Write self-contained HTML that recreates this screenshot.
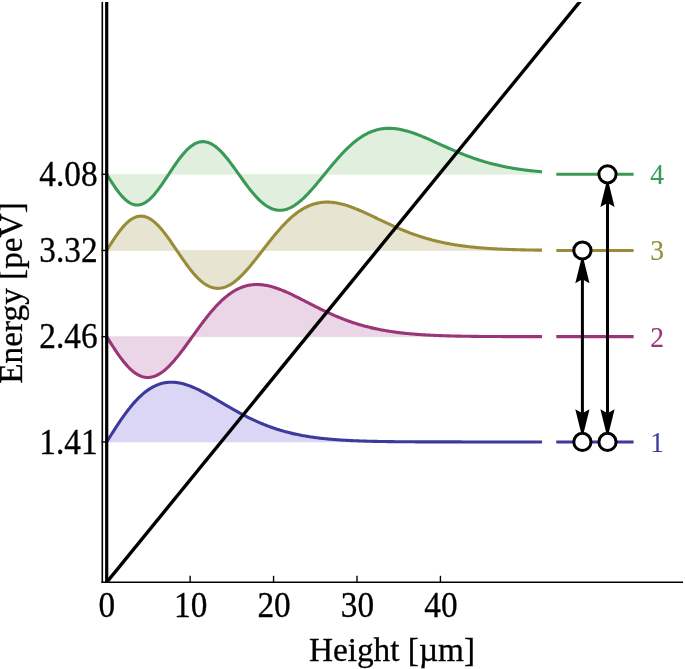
<!DOCTYPE html>
<html><head><meta charset="utf-8"><title>Energy levels</title>
<style>html,body{margin:0;padding:0;background:#fff}svg{display:block}</style></head>
<body>
<svg width="685" height="669" viewBox="0 0 685 669">
<rect width="685" height="669" fill="#fff"/>
<path d="M106.70 441.94L106.70 441.94L107.79 440.20L108.88 438.46L109.97 436.72L111.06 434.99L112.15 433.27L113.25 431.55L114.34 429.85L115.43 428.16L116.52 426.49L117.61 424.83L118.70 423.19L119.79 421.57L120.88 419.97L121.97 418.40L123.06 416.84L124.16 415.32L125.25 413.81L126.34 412.34L127.43 410.89L128.52 409.48L129.61 408.09L130.70 406.74L131.79 405.41L132.88 404.12L133.97 402.87L135.07 401.65L136.16 400.46L137.25 399.31L138.34 398.20L139.43 397.12L140.52 396.08L141.61 395.08L142.70 394.12L143.79 393.19L144.88 392.30L145.98 391.45L147.07 390.64L148.16 389.87L149.25 389.13L150.34 388.44L151.43 387.78L152.52 387.16L153.61 386.58L154.70 386.04L155.79 385.53L156.88 385.07L157.98 384.64L159.07 384.24L160.16 383.88L161.25 383.56L162.34 383.28L163.43 383.03L164.52 382.81L165.61 382.63L166.70 382.48L167.79 382.36L168.89 382.28L169.98 382.22L171.07 382.20L172.16 382.21L173.25 382.25L174.34 382.32L175.43 382.41L176.52 382.54L177.61 382.69L178.70 382.86L179.80 383.07L180.89 383.29L181.98 383.54L183.07 383.82L184.16 384.11L185.25 384.43L186.34 384.77L187.43 385.13L188.52 385.51L189.61 385.91L190.71 386.32L191.80 386.75L192.89 387.20L193.98 387.67L195.07 388.15L196.16 388.64L197.25 389.15L198.34 389.67L199.43 390.20L200.52 390.75L201.62 391.30L202.71 391.86L203.80 392.44L204.89 393.02L205.98 393.61L207.07 394.21L208.16 394.81L209.25 395.43L210.34 396.04L211.43 396.66L212.52 397.29L213.62 397.92L214.71 398.55L215.80 399.19L216.89 399.83L217.98 400.47L219.07 401.11L220.16 401.75L221.25 402.40L222.34 403.04L223.43 403.68L224.53 404.32L225.62 404.97L226.71 405.60L227.80 406.24L228.89 406.88L229.98 407.51L231.07 408.14L232.16 408.76L233.25 409.38L234.34 410.00L235.44 410.61L236.53 411.22L237.62 411.83L238.71 412.42L239.80 413.02L240.89 413.61L241.98 414.19L243.07 414.77L244.16 415.34L245.25 415.90L246.35 416.46L247.44 417.01L248.53 417.55L249.62 418.09L250.71 418.62L251.80 419.15L252.89 419.67L253.98 420.18L255.07 420.68L256.16 421.17L257.25 421.66L258.35 422.14L259.44 422.62L260.53 423.08L261.62 423.54L262.71 423.99L263.80 424.43L264.89 424.87L265.98 425.30L267.07 425.72L268.16 426.13L269.26 426.53L270.35 426.93L271.44 427.32L272.53 427.71L273.62 428.08L274.71 428.45L275.80 428.81L276.89 429.16L277.98 429.51L279.07 429.85L280.17 430.18L281.26 430.50L282.35 430.82L283.44 431.13L284.53 431.44L285.62 431.74L286.71 432.03L287.80 432.31L288.89 432.59L289.98 432.86L291.08 433.12L292.17 433.38L293.26 433.64L294.35 433.88L295.44 434.12L296.53 434.36L297.62 434.59L298.71 434.81L299.80 435.03L300.89 435.24L301.98 435.44L303.08 435.65L304.17 435.84L305.26 436.03L306.35 436.22L307.44 436.40L308.53 436.57L309.62 436.75L310.71 436.91L311.80 437.07L312.89 437.23L313.99 437.38L315.08 437.53L316.17 437.68L317.26 437.82L318.35 437.96L319.44 438.09L320.53 438.22L321.62 438.34L322.71 438.46L323.80 438.58L324.90 438.70L325.99 438.81L327.08 438.91L328.17 439.02L329.26 439.12L330.35 439.22L331.44 439.31L332.53 439.40L333.62 439.49L334.71 439.58L335.81 439.66L336.90 439.74L337.99 439.82L339.08 439.90L340.17 439.97L341.26 440.04L342.35 440.11L343.44 440.18L344.53 440.24L345.62 440.31L346.72 440.37L347.81 440.42L348.90 440.48L349.99 440.53L351.08 440.59L352.17 440.64L353.26 440.69L354.35 440.73L355.44 440.78L356.53 440.82L357.62 440.87L358.72 440.91L359.81 440.95L360.90 440.99L361.99 441.02L363.08 441.06L364.17 441.09L365.26 441.13L366.35 441.16L367.44 441.19L368.53 441.22L369.63 441.25L370.72 441.27L371.81 441.30L372.90 441.33L373.99 441.35L375.08 441.37L376.17 441.40L377.26 441.42L378.35 441.44L379.44 441.46L380.54 441.48L381.63 441.50L382.72 441.52L383.81 441.53L384.90 441.55L385.99 441.57L387.08 441.58L388.17 441.60L389.26 441.61L390.35 441.63L391.45 441.64L392.54 441.65L393.63 441.66L394.72 441.68L395.81 441.69L396.90 441.70L397.99 441.71L399.08 441.72L400.17 441.73L401.26 441.74L402.35 441.75L403.45 441.75L404.54 441.76L405.63 441.77L406.72 441.78L407.81 441.78L408.90 441.79L409.99 441.80L411.08 441.80L412.17 441.81L413.26 441.82L414.36 441.82L415.45 441.83L416.54 441.83L417.63 441.84L418.72 441.84L419.81 441.85L420.90 441.85L421.99 441.85L423.08 441.86L424.17 441.86L425.27 441.86L426.36 441.87L427.45 441.87L428.54 441.87L429.63 441.88L430.72 441.88L431.81 441.88L432.90 441.89L433.99 441.89L435.08 441.89L436.18 441.89L437.27 441.90L438.36 441.90L439.45 441.90L440.54 441.90L441.63 441.90L442.72 441.90L443.81 441.91L444.90 441.91L445.99 441.91L447.08 441.91L448.18 441.91L449.27 441.91L450.36 441.91L451.45 441.92L452.54 441.92L453.63 441.92L454.72 441.92L455.81 441.92L456.90 441.92L457.99 441.92L459.09 441.92L460.18 441.92L461.27 441.92L462.36 441.93L463.45 441.93L464.54 441.93L465.63 441.93L466.72 441.93L467.81 441.93L468.90 441.93L470.00 441.93L471.09 441.93L472.18 441.93L473.27 441.93L474.36 441.93L475.45 441.93L476.54 441.93L477.63 441.93L478.72 441.93L479.81 441.93L480.91 441.93L482.00 441.93L483.09 441.93L484.18 441.93L485.27 441.93L486.36 441.93L487.45 441.94L488.54 441.94L489.63 441.94L490.72 441.94L491.82 441.94L492.91 441.94L494.00 441.94L495.09 441.94L496.18 441.94L497.27 441.94L498.36 441.94L499.45 441.94L500.54 441.94L501.63 441.94L502.72 441.94L503.82 441.94L504.91 441.94L506.00 441.94L507.09 441.94L508.18 441.94L509.27 441.94L510.36 441.94L511.45 441.94L512.54 441.94L513.63 441.94L514.73 441.94L515.82 441.94L516.91 441.94L518.00 441.94L519.09 441.94L520.18 441.94L521.27 441.94L522.36 441.94L523.45 441.94L524.54 441.94L525.64 441.94L526.73 441.94L527.82 441.94L528.91 441.94L530.00 441.94L531.09 441.94L532.18 441.94L533.27 441.94L534.36 441.94L535.45 441.94L536.55 441.94L537.64 441.94L538.73 441.94L539.82 441.94L540.91 441.94L542.00 441.94L542.00 441.94Z" fill="#dbd6f5" stroke="#dbd6f5" stroke-width="0.7"/>
<path d="M106.70 336.67L106.70 336.67L107.79 338.41L108.88 340.15L109.97 341.88L111.06 343.60L112.15 345.31L113.25 347.00L114.34 348.67L115.43 350.32L116.52 351.94L117.61 353.53L118.70 355.09L119.79 356.61L120.88 358.09L121.97 359.54L123.06 360.94L124.16 362.30L125.25 363.61L126.34 364.87L127.43 366.08L128.52 367.23L129.61 368.33L130.70 369.37L131.79 370.36L132.88 371.28L133.97 372.14L135.07 372.94L136.16 373.68L137.25 374.36L138.34 374.96L139.43 375.51L140.52 375.99L141.61 376.40L142.70 376.74L143.79 377.02L144.88 377.23L145.98 377.38L147.07 377.45L148.16 377.47L149.25 377.41L150.34 377.29L151.43 377.11L152.52 376.86L153.61 376.55L154.70 376.18L155.79 375.75L156.88 375.26L157.98 374.71L159.07 374.10L160.16 373.43L161.25 372.71L162.34 371.94L163.43 371.11L164.52 370.24L165.61 369.32L166.70 368.35L167.79 367.33L168.89 366.27L169.98 365.18L171.07 364.04L172.16 362.86L173.25 361.65L174.34 360.40L175.43 359.12L176.52 357.81L177.61 356.48L178.70 355.12L179.80 353.73L180.89 352.32L181.98 350.89L183.07 349.45L184.16 347.99L185.25 346.51L186.34 345.02L187.43 343.52L188.52 342.02L189.61 340.50L190.71 338.98L191.80 337.46L192.89 335.94L193.98 334.42L195.07 332.90L196.16 331.39L197.25 329.88L198.34 328.38L199.43 326.89L200.52 325.41L201.62 323.94L202.71 322.49L203.80 321.05L204.89 319.62L205.98 318.22L207.07 316.83L208.16 315.46L209.25 314.12L210.34 312.79L211.43 311.49L212.52 310.22L213.62 308.97L214.71 307.74L215.80 306.55L216.89 305.38L217.98 304.24L219.07 303.12L220.16 302.04L221.25 300.99L222.34 299.97L223.43 298.98L224.53 298.03L225.62 297.10L226.71 296.21L227.80 295.35L228.89 294.52L229.98 293.73L231.07 292.97L232.16 292.24L233.25 291.55L234.34 290.89L235.44 290.27L236.53 289.68L237.62 289.12L238.71 288.60L239.80 288.10L240.89 287.65L241.98 287.22L243.07 286.83L244.16 286.47L245.25 286.14L246.35 285.84L247.44 285.58L248.53 285.34L249.62 285.14L250.71 284.96L251.80 284.82L252.89 284.70L253.98 284.61L255.07 284.55L256.16 284.52L257.25 284.51L258.35 284.53L259.44 284.58L260.53 284.65L261.62 284.74L262.71 284.86L263.80 285.01L264.89 285.17L265.98 285.36L267.07 285.57L268.16 285.79L269.26 286.04L270.35 286.31L271.44 286.60L272.53 286.90L273.62 287.22L274.71 287.56L275.80 287.92L276.89 288.29L277.98 288.67L279.07 289.07L280.17 289.48L281.26 289.91L282.35 290.34L283.44 290.79L284.53 291.25L285.62 291.72L286.71 292.20L287.80 292.69L288.89 293.19L289.98 293.69L291.08 294.20L292.17 294.72L293.26 295.25L294.35 295.78L295.44 296.31L296.53 296.85L297.62 297.40L298.71 297.95L299.80 298.50L300.89 299.05L301.98 299.61L303.08 300.17L304.17 300.73L305.26 301.29L306.35 301.85L307.44 302.41L308.53 302.97L309.62 303.53L310.71 304.09L311.80 304.65L312.89 305.21L313.99 305.76L315.08 306.32L316.17 306.87L317.26 307.42L318.35 307.96L319.44 308.50L320.53 309.04L321.62 309.57L322.71 310.10L323.80 310.63L324.90 311.15L325.99 311.66L327.08 312.17L328.17 312.68L329.26 313.18L330.35 313.68L331.44 314.17L332.53 314.65L333.62 315.13L334.71 315.60L335.81 316.07L336.90 316.53L337.99 316.99L339.08 317.43L340.17 317.88L341.26 318.31L342.35 318.74L343.44 319.17L344.53 319.58L345.62 319.99L346.72 320.40L347.81 320.79L348.90 321.18L349.99 321.57L351.08 321.94L352.17 322.31L353.26 322.68L354.35 323.03L355.44 323.39L356.53 323.73L357.62 324.07L358.72 324.40L359.81 324.72L360.90 325.04L361.99 325.35L363.08 325.66L364.17 325.96L365.26 326.25L366.35 326.54L367.44 326.82L368.53 327.09L369.63 327.36L370.72 327.62L371.81 327.88L372.90 328.13L373.99 328.38L375.08 328.62L376.17 328.85L377.26 329.08L378.35 329.30L379.44 329.52L380.54 329.73L381.63 329.94L382.72 330.14L383.81 330.34L384.90 330.53L385.99 330.72L387.08 330.90L388.17 331.08L389.26 331.26L390.35 331.42L391.45 331.59L392.54 331.75L393.63 331.90L394.72 332.06L395.81 332.20L396.90 332.35L397.99 332.49L399.08 332.62L400.17 332.75L401.26 332.88L402.35 333.01L403.45 333.13L404.54 333.25L405.63 333.36L406.72 333.47L407.81 333.58L408.90 333.68L409.99 333.78L411.08 333.88L412.17 333.98L413.26 334.07L414.36 334.16L415.45 334.25L416.54 334.33L417.63 334.41L418.72 334.49L419.81 334.57L420.90 334.64L421.99 334.72L423.08 334.79L424.17 334.85L425.27 334.92L426.36 334.98L427.45 335.04L428.54 335.10L429.63 335.16L430.72 335.21L431.81 335.27L432.90 335.32L433.99 335.37L435.08 335.42L436.18 335.46L437.27 335.51L438.36 335.55L439.45 335.60L440.54 335.64L441.63 335.67L442.72 335.71L443.81 335.75L444.90 335.78L445.99 335.82L447.08 335.85L448.18 335.88L449.27 335.91L450.36 335.94L451.45 335.97L452.54 336.00L453.63 336.03L454.72 336.05L455.81 336.08L456.90 336.10L457.99 336.12L459.09 336.14L460.18 336.16L461.27 336.19L462.36 336.20L463.45 336.22L464.54 336.24L465.63 336.26L466.72 336.28L467.81 336.29L468.90 336.31L470.00 336.32L471.09 336.34L472.18 336.35L473.27 336.36L474.36 336.38L475.45 336.39L476.54 336.40L477.63 336.41L478.72 336.42L479.81 336.43L480.91 336.44L482.00 336.45L483.09 336.46L484.18 336.47L485.27 336.48L486.36 336.49L487.45 336.50L488.54 336.50L489.63 336.51L490.72 336.52L491.82 336.52L492.91 336.53L494.00 336.54L495.09 336.54L496.18 336.55L497.27 336.55L498.36 336.56L499.45 336.56L500.54 336.57L501.63 336.57L502.72 336.58L503.82 336.58L504.91 336.58L506.00 336.59L507.09 336.59L508.18 336.60L509.27 336.60L510.36 336.60L511.45 336.61L512.54 336.61L513.63 336.61L514.73 336.61L515.82 336.62L516.91 336.62L518.00 336.62L519.09 336.62L520.18 336.63L521.27 336.63L522.36 336.63L523.45 336.63L524.54 336.63L525.64 336.63L526.73 336.64L527.82 336.64L528.91 336.64L530.00 336.64L531.09 336.64L532.18 336.64L533.27 336.64L534.36 336.65L535.45 336.65L536.55 336.65L537.64 336.65L538.73 336.65L539.82 336.65L540.91 336.65L542.00 336.65L542.00 336.67Z" fill="#ead6e6" stroke="#ead6e6" stroke-width="0.7"/>
<path d="M106.70 250.48L106.70 250.48L107.79 248.74L108.88 247.00L109.97 245.28L111.06 243.56L112.15 241.87L113.25 240.20L114.34 238.55L115.43 236.94L116.52 235.36L117.61 233.83L118.70 232.33L119.79 230.89L120.88 229.49L121.97 228.15L123.06 226.87L124.16 225.65L125.25 224.49L126.34 223.40L127.43 222.38L128.52 221.43L129.61 220.55L130.70 219.75L131.79 219.02L132.88 218.37L133.97 217.81L135.07 217.32L136.16 216.91L137.25 216.59L138.34 216.34L139.43 216.19L140.52 216.11L141.61 216.11L142.70 216.20L143.79 216.37L144.88 216.62L145.98 216.95L147.07 217.36L148.16 217.84L149.25 218.40L150.34 219.04L151.43 219.75L152.52 220.52L153.61 221.37L154.70 222.28L155.79 223.26L156.88 224.29L157.98 225.39L159.07 226.54L160.16 227.74L161.25 229.00L162.34 230.30L163.43 231.64L164.52 233.03L165.61 234.45L166.70 235.91L167.79 237.39L168.89 238.91L169.98 240.45L171.07 242.01L172.16 243.59L173.25 245.19L174.34 246.79L175.43 248.40L176.52 250.02L177.61 251.64L178.70 253.25L179.80 254.86L180.89 256.46L181.98 258.05L183.07 259.62L184.16 261.18L185.25 262.71L186.34 264.23L187.43 265.71L188.52 267.17L189.61 268.59L190.71 269.98L191.80 271.33L192.89 272.64L193.98 273.92L195.07 275.14L196.16 276.33L197.25 277.46L198.34 278.55L199.43 279.58L200.52 280.57L201.62 281.50L202.71 282.37L203.80 283.19L204.89 283.95L205.98 284.65L207.07 285.29L208.16 285.87L209.25 286.40L210.34 286.86L211.43 287.26L212.52 287.59L213.62 287.87L214.71 288.08L215.80 288.24L216.89 288.33L217.98 288.36L219.07 288.32L220.16 288.23L221.25 288.08L222.34 287.86L223.43 287.59L224.53 287.27L225.62 286.88L226.71 286.44L227.80 285.94L228.89 285.39L229.98 284.79L231.07 284.14L232.16 283.43L233.25 282.68L234.34 281.88L235.44 281.04L236.53 280.15L237.62 279.22L238.71 278.25L239.80 277.24L240.89 276.19L241.98 275.11L243.07 273.99L244.16 272.85L245.25 271.67L246.35 270.46L247.44 269.23L248.53 267.97L249.62 266.69L250.71 265.39L251.80 264.07L252.89 262.73L253.98 261.38L255.07 260.01L256.16 258.63L257.25 257.25L258.35 255.85L259.44 254.45L260.53 253.04L261.62 251.63L262.71 250.21L263.80 248.80L264.89 247.39L265.98 245.99L267.07 244.59L268.16 243.19L269.26 241.80L270.35 240.43L271.44 239.06L272.53 237.71L273.62 236.36L274.71 235.04L275.80 233.73L276.89 232.44L277.98 231.16L279.07 229.91L280.17 228.67L281.26 227.46L282.35 226.27L283.44 225.10L284.53 223.96L285.62 222.84L286.71 221.75L287.80 220.68L288.89 219.64L289.98 218.63L291.08 217.64L292.17 216.69L293.26 215.76L294.35 214.86L295.44 214.00L296.53 213.16L297.62 212.35L298.71 211.58L299.80 210.83L300.89 210.12L301.98 209.44L303.08 208.79L304.17 208.17L305.26 207.58L306.35 207.02L307.44 206.49L308.53 206.00L309.62 205.53L310.71 205.10L311.80 204.69L312.89 204.32L313.99 203.98L315.08 203.66L316.17 203.38L317.26 203.13L318.35 202.90L319.44 202.70L320.53 202.53L321.62 202.39L322.71 202.27L323.80 202.18L324.90 202.12L325.99 202.08L327.08 202.07L328.17 202.08L329.26 202.12L330.35 202.18L331.44 202.26L332.53 202.36L333.62 202.49L334.71 202.64L335.81 202.80L336.90 202.99L337.99 203.20L339.08 203.42L340.17 203.67L341.26 203.93L342.35 204.21L343.44 204.50L344.53 204.81L345.62 205.13L346.72 205.47L347.81 205.83L348.90 206.19L349.99 206.57L351.08 206.96L352.17 207.37L353.26 207.78L354.35 208.20L355.44 208.63L356.53 209.08L357.62 209.53L358.72 209.99L359.81 210.45L360.90 210.93L361.99 211.41L363.08 211.89L364.17 212.38L365.26 212.88L366.35 213.38L367.44 213.89L368.53 214.39L369.63 214.90L370.72 215.42L371.81 215.93L372.90 216.45L373.99 216.97L375.08 217.49L376.17 218.01L377.26 218.53L378.35 219.06L379.44 219.58L380.54 220.10L381.63 220.62L382.72 221.13L383.81 221.65L384.90 222.16L385.99 222.67L387.08 223.18L388.17 223.69L389.26 224.19L390.35 224.69L391.45 225.19L392.54 225.68L393.63 226.17L394.72 226.65L395.81 227.13L396.90 227.61L397.99 228.08L399.08 228.55L400.17 229.01L401.26 229.47L402.35 229.92L403.45 230.36L404.54 230.80L405.63 231.24L406.72 231.67L407.81 232.09L408.90 232.51L409.99 232.92L411.08 233.33L412.17 233.73L413.26 234.12L414.36 234.51L415.45 234.89L416.54 235.27L417.63 235.64L418.72 236.00L419.81 236.36L420.90 236.71L421.99 237.06L423.08 237.40L424.17 237.73L425.27 238.06L426.36 238.38L427.45 238.70L428.54 239.01L429.63 239.31L430.72 239.61L431.81 239.90L432.90 240.18L433.99 240.46L435.08 240.74L436.18 241.00L437.27 241.27L438.36 241.52L439.45 241.77L440.54 242.02L441.63 242.26L442.72 242.49L443.81 242.72L444.90 242.95L445.99 243.17L447.08 243.38L448.18 243.59L449.27 243.79L450.36 243.99L451.45 244.18L452.54 244.37L453.63 244.56L454.72 244.74L455.81 244.91L456.90 245.08L457.99 245.25L459.09 245.41L460.18 245.57L461.27 245.72L462.36 245.87L463.45 246.02L464.54 246.16L465.63 246.30L466.72 246.43L467.81 246.56L468.90 246.69L470.00 246.82L471.09 246.94L472.18 247.05L473.27 247.16L474.36 247.27L475.45 247.38L476.54 247.49L477.63 247.59L478.72 247.68L479.81 247.78L480.91 247.87L482.00 247.96L483.09 248.05L484.18 248.13L485.27 248.21L486.36 248.29L487.45 248.37L488.54 248.44L489.63 248.51L490.72 248.58L491.82 248.65L492.91 248.72L494.00 248.78L495.09 248.84L496.18 248.90L497.27 248.96L498.36 249.01L499.45 249.07L500.54 249.12L501.63 249.17L502.72 249.22L503.82 249.26L504.91 249.31L506.00 249.35L507.09 249.39L508.18 249.44L509.27 249.48L510.36 249.51L511.45 249.55L512.54 249.59L513.63 249.62L514.73 249.65L515.82 249.68L516.91 249.72L518.00 249.75L519.09 249.77L520.18 249.80L521.27 249.83L522.36 249.85L523.45 249.88L524.54 249.90L525.64 249.93L526.73 249.95L527.82 249.97L528.91 249.99L530.00 250.01L531.09 250.03L532.18 250.05L533.27 250.06L534.36 250.08L535.45 250.10L536.55 250.11L537.64 250.13L538.73 250.14L539.82 250.16L540.91 250.17L542.00 250.18L542.00 250.48Z" fill="#e8e4d2" stroke="#e8e4d2" stroke-width="0.7"/>
<path d="M106.70 174.31L106.70 174.31L107.79 176.05L108.88 177.79L109.97 179.51L111.06 181.22L112.15 182.90L113.25 184.56L114.34 186.18L115.43 187.76L116.52 189.30L117.61 190.79L118.70 192.23L119.79 193.60L120.88 194.92L121.97 196.17L123.06 197.35L124.16 198.45L125.25 199.48L126.34 200.43L127.43 201.29L128.52 202.07L129.61 202.76L130.70 203.36L131.79 203.88L132.88 204.30L133.97 204.62L135.07 204.86L136.16 204.99L137.25 205.04L138.34 204.99L139.43 204.85L140.52 204.61L141.61 204.28L142.70 203.87L143.79 203.36L144.88 202.77L145.98 202.09L147.07 201.33L148.16 200.49L149.25 199.57L150.34 198.58L151.43 197.51L152.52 196.38L153.61 195.19L154.70 193.93L155.79 192.62L156.88 191.26L157.98 189.84L159.07 188.39L160.16 186.89L161.25 185.36L162.34 183.79L163.43 182.20L164.52 180.59L165.61 178.96L166.70 177.32L167.79 175.66L168.89 174.01L169.98 172.36L171.07 170.71L172.16 169.07L173.25 167.44L174.34 165.84L175.43 164.25L176.52 162.70L177.61 161.17L178.70 159.68L179.80 158.23L180.89 156.82L181.98 155.45L183.07 154.14L184.16 152.88L185.25 151.67L186.34 150.52L187.43 149.43L188.52 148.41L189.61 147.45L190.71 146.56L191.80 145.74L192.89 144.99L193.98 144.31L195.07 143.71L196.16 143.18L197.25 142.73L198.34 142.36L199.43 142.07L200.52 141.85L201.62 141.71L202.71 141.65L203.80 141.67L204.89 141.77L205.98 141.95L207.07 142.20L208.16 142.52L209.25 142.92L210.34 143.40L211.43 143.94L212.52 144.56L213.62 145.24L214.71 146.00L215.80 146.81L216.89 147.69L217.98 148.62L219.07 149.62L220.16 150.67L221.25 151.77L222.34 152.92L223.43 154.12L224.53 155.37L225.62 156.65L226.71 157.97L227.80 159.33L228.89 160.72L229.98 162.14L231.07 163.58L232.16 165.05L233.25 166.54L234.34 168.04L235.44 169.56L236.53 171.08L237.62 172.62L238.71 174.15L239.80 175.69L240.89 177.22L241.98 178.75L243.07 180.27L244.16 181.77L245.25 183.27L246.35 184.74L247.44 186.19L248.53 187.63L249.62 189.03L250.71 190.41L251.80 191.75L252.89 193.07L253.98 194.35L255.07 195.59L256.16 196.79L257.25 197.95L258.35 199.06L259.44 200.13L260.53 201.15L261.62 202.13L262.71 203.05L263.80 203.93L264.89 204.75L265.98 205.51L267.07 206.23L268.16 206.88L269.26 207.48L270.35 208.02L271.44 208.51L272.53 208.94L273.62 209.31L274.71 209.62L275.80 209.87L276.89 210.06L277.98 210.19L279.07 210.27L280.17 210.28L281.26 210.24L282.35 210.14L283.44 209.99L284.53 209.78L285.62 209.51L286.71 209.19L287.80 208.81L288.89 208.38L289.98 207.90L291.08 207.37L292.17 206.79L293.26 206.16L294.35 205.48L295.44 204.76L296.53 203.99L297.62 203.19L298.71 202.33L299.80 201.44L300.89 200.51L301.98 199.55L303.08 198.55L304.17 197.51L305.26 196.45L306.35 195.35L307.44 194.23L308.53 193.08L309.62 191.90L310.71 190.70L311.80 189.48L312.89 188.24L313.99 186.99L315.08 185.71L316.17 184.43L317.26 183.12L318.35 181.81L319.44 180.49L320.53 179.17L321.62 177.83L322.71 176.49L323.80 175.15L324.90 173.81L325.99 172.47L327.08 171.13L328.17 169.80L329.26 168.47L330.35 167.14L331.44 165.83L332.53 164.52L333.62 163.22L334.71 161.94L335.81 160.67L336.90 159.41L337.99 158.17L339.08 156.95L340.17 155.74L341.26 154.55L342.35 153.38L343.44 152.23L344.53 151.11L345.62 150.00L346.72 148.92L347.81 147.86L348.90 146.83L349.99 145.82L351.08 144.84L352.17 143.88L353.26 142.95L354.35 142.05L355.44 141.17L356.53 140.33L357.62 139.51L358.72 138.72L359.81 137.96L360.90 137.23L361.99 136.52L363.08 135.85L364.17 135.21L365.26 134.59L366.35 134.01L367.44 133.46L368.53 132.93L369.63 132.44L370.72 131.97L371.81 131.54L372.90 131.13L373.99 130.75L375.08 130.40L376.17 130.08L377.26 129.79L378.35 129.52L379.44 129.29L380.54 129.08L381.63 128.89L382.72 128.74L383.81 128.60L384.90 128.50L385.99 128.42L387.08 128.36L388.17 128.33L389.26 128.32L390.35 128.34L391.45 128.38L392.54 128.44L393.63 128.52L394.72 128.62L395.81 128.75L396.90 128.89L397.99 129.05L399.08 129.23L400.17 129.43L401.26 129.65L402.35 129.88L403.45 130.14L404.54 130.40L405.63 130.69L406.72 130.98L407.81 131.29L408.90 131.62L409.99 131.96L411.08 132.31L412.17 132.67L413.26 133.04L414.36 133.43L415.45 133.82L416.54 134.22L417.63 134.64L418.72 135.06L419.81 135.49L420.90 135.93L421.99 136.37L423.08 136.82L424.17 137.28L425.27 137.74L426.36 138.21L427.45 138.68L428.54 139.16L429.63 139.64L430.72 140.12L431.81 140.61L432.90 141.09L433.99 141.58L435.08 142.08L436.18 142.57L437.27 143.06L438.36 143.56L439.45 144.05L440.54 144.55L441.63 145.04L442.72 145.54L443.81 146.03L444.90 146.52L445.99 147.01L447.08 147.50L448.18 147.98L449.27 148.47L450.36 148.95L451.45 149.43L452.54 149.90L453.63 150.37L454.72 150.84L455.81 151.30L456.90 151.76L457.99 152.22L459.09 152.67L460.18 153.11L461.27 153.56L462.36 153.99L463.45 154.43L464.54 154.85L465.63 155.28L466.72 155.69L467.81 156.11L468.90 156.51L470.00 156.92L471.09 157.31L472.18 157.70L473.27 158.09L474.36 158.47L475.45 158.84L476.54 159.21L477.63 159.57L478.72 159.93L479.81 160.28L480.91 160.62L482.00 160.96L483.09 161.29L484.18 161.62L485.27 161.94L486.36 162.26L487.45 162.57L488.54 162.87L489.63 163.17L490.72 163.46L491.82 163.75L492.91 164.03L494.00 164.31L495.09 164.58L496.18 164.84L497.27 165.10L498.36 165.35L499.45 165.60L500.54 165.84L501.63 166.08L502.72 166.31L503.82 166.54L504.91 166.76L506.00 166.98L507.09 167.19L508.18 167.40L509.27 167.60L510.36 167.80L511.45 167.99L512.54 168.18L513.63 168.36L514.73 168.54L515.82 168.71L516.91 168.88L518.00 169.05L519.09 169.21L520.18 169.37L521.27 169.52L522.36 169.67L523.45 169.82L524.54 169.96L525.64 170.10L526.73 170.23L527.82 170.36L528.91 170.49L530.00 170.61L531.09 170.73L532.18 170.85L533.27 170.96L534.36 171.07L535.45 171.18L536.55 171.28L537.64 171.38L538.73 171.48L539.82 171.58L540.91 171.67L542.00 171.76L542.00 174.31Z" fill="#e1f0de" stroke="#e1f0de" stroke-width="0.7"/>
<path d="M106.70 441.94L107.79 440.20L108.88 438.46L109.97 436.72L111.06 434.99L112.15 433.27L113.25 431.55L114.34 429.85L115.43 428.16L116.52 426.49L117.61 424.83L118.70 423.19L119.79 421.57L120.88 419.97L121.97 418.40L123.06 416.84L124.16 415.32L125.25 413.81L126.34 412.34L127.43 410.89L128.52 409.48L129.61 408.09L130.70 406.74L131.79 405.41L132.88 404.12L133.97 402.87L135.07 401.65L136.16 400.46L137.25 399.31L138.34 398.20L139.43 397.12L140.52 396.08L141.61 395.08L142.70 394.12L143.79 393.19L144.88 392.30L145.98 391.45L147.07 390.64L148.16 389.87L149.25 389.13L150.34 388.44L151.43 387.78L152.52 387.16L153.61 386.58L154.70 386.04L155.79 385.53L156.88 385.07L157.98 384.64L159.07 384.24L160.16 383.88L161.25 383.56L162.34 383.28L163.43 383.03L164.52 382.81L165.61 382.63L166.70 382.48L167.79 382.36L168.89 382.28L169.98 382.22L171.07 382.20L172.16 382.21L173.25 382.25L174.34 382.32L175.43 382.41L176.52 382.54L177.61 382.69L178.70 382.86L179.80 383.07L180.89 383.29L181.98 383.54L183.07 383.82L184.16 384.11L185.25 384.43L186.34 384.77L187.43 385.13L188.52 385.51L189.61 385.91L190.71 386.32L191.80 386.75L192.89 387.20L193.98 387.67L195.07 388.15L196.16 388.64L197.25 389.15L198.34 389.67L199.43 390.20L200.52 390.75L201.62 391.30L202.71 391.86L203.80 392.44L204.89 393.02L205.98 393.61L207.07 394.21L208.16 394.81L209.25 395.43L210.34 396.04L211.43 396.66L212.52 397.29L213.62 397.92L214.71 398.55L215.80 399.19L216.89 399.83L217.98 400.47L219.07 401.11L220.16 401.75L221.25 402.40L222.34 403.04L223.43 403.68L224.53 404.32L225.62 404.97L226.71 405.60L227.80 406.24L228.89 406.88L229.98 407.51L231.07 408.14L232.16 408.76L233.25 409.38L234.34 410.00L235.44 410.61L236.53 411.22L237.62 411.83L238.71 412.42L239.80 413.02L240.89 413.61L241.98 414.19L243.07 414.77L244.16 415.34L245.25 415.90L246.35 416.46L247.44 417.01L248.53 417.55L249.62 418.09L250.71 418.62L251.80 419.15L252.89 419.67L253.98 420.18L255.07 420.68L256.16 421.17L257.25 421.66L258.35 422.14L259.44 422.62L260.53 423.08L261.62 423.54L262.71 423.99L263.80 424.43L264.89 424.87L265.98 425.30L267.07 425.72L268.16 426.13L269.26 426.53L270.35 426.93L271.44 427.32L272.53 427.71L273.62 428.08L274.71 428.45L275.80 428.81L276.89 429.16L277.98 429.51L279.07 429.85L280.17 430.18L281.26 430.50L282.35 430.82L283.44 431.13L284.53 431.44L285.62 431.74L286.71 432.03L287.80 432.31L288.89 432.59L289.98 432.86L291.08 433.12L292.17 433.38L293.26 433.64L294.35 433.88L295.44 434.12L296.53 434.36L297.62 434.59L298.71 434.81L299.80 435.03L300.89 435.24L301.98 435.44L303.08 435.65L304.17 435.84L305.26 436.03L306.35 436.22L307.44 436.40L308.53 436.57L309.62 436.75L310.71 436.91L311.80 437.07L312.89 437.23L313.99 437.38L315.08 437.53L316.17 437.68L317.26 437.82L318.35 437.96L319.44 438.09L320.53 438.22L321.62 438.34L322.71 438.46L323.80 438.58L324.90 438.70L325.99 438.81L327.08 438.91L328.17 439.02L329.26 439.12L330.35 439.22L331.44 439.31L332.53 439.40L333.62 439.49L334.71 439.58L335.81 439.66L336.90 439.74L337.99 439.82L339.08 439.90L340.17 439.97L341.26 440.04L342.35 440.11L343.44 440.18L344.53 440.24L345.62 440.31L346.72 440.37L347.81 440.42L348.90 440.48L349.99 440.53L351.08 440.59L352.17 440.64L353.26 440.69L354.35 440.73L355.44 440.78L356.53 440.82L357.62 440.87L358.72 440.91L359.81 440.95L360.90 440.99L361.99 441.02L363.08 441.06L364.17 441.09L365.26 441.13L366.35 441.16L367.44 441.19L368.53 441.22L369.63 441.25L370.72 441.27L371.81 441.30L372.90 441.33L373.99 441.35L375.08 441.37L376.17 441.40L377.26 441.42L378.35 441.44L379.44 441.46L380.54 441.48L381.63 441.50L382.72 441.52L383.81 441.53L384.90 441.55L385.99 441.57L387.08 441.58L388.17 441.60L389.26 441.61L390.35 441.63L391.45 441.64L392.54 441.65L393.63 441.66L394.72 441.68L395.81 441.69L396.90 441.70L397.99 441.71L399.08 441.72L400.17 441.73L401.26 441.74L402.35 441.75L403.45 441.75L404.54 441.76L405.63 441.77L406.72 441.78L407.81 441.78L408.90 441.79L409.99 441.80L411.08 441.80L412.17 441.81L413.26 441.82L414.36 441.82L415.45 441.83L416.54 441.83L417.63 441.84L418.72 441.84L419.81 441.85L420.90 441.85L421.99 441.85L423.08 441.86L424.17 441.86L425.27 441.86L426.36 441.87L427.45 441.87L428.54 441.87L429.63 441.88L430.72 441.88L431.81 441.88L432.90 441.89L433.99 441.89L435.08 441.89L436.18 441.89L437.27 441.90L438.36 441.90L439.45 441.90L440.54 441.90L441.63 441.90L442.72 441.90L443.81 441.91L444.90 441.91L445.99 441.91L447.08 441.91L448.18 441.91L449.27 441.91L450.36 441.91L451.45 441.92L452.54 441.92L453.63 441.92L454.72 441.92L455.81 441.92L456.90 441.92L457.99 441.92L459.09 441.92L460.18 441.92L461.27 441.92L462.36 441.93L463.45 441.93L464.54 441.93L465.63 441.93L466.72 441.93L467.81 441.93L468.90 441.93L470.00 441.93L471.09 441.93L472.18 441.93L473.27 441.93L474.36 441.93L475.45 441.93L476.54 441.93L477.63 441.93L478.72 441.93L479.81 441.93L480.91 441.93L482.00 441.93L483.09 441.93L484.18 441.93L485.27 441.93L486.36 441.93L487.45 441.94L488.54 441.94L489.63 441.94L490.72 441.94L491.82 441.94L492.91 441.94L494.00 441.94L495.09 441.94L496.18 441.94L497.27 441.94L498.36 441.94L499.45 441.94L500.54 441.94L501.63 441.94L502.72 441.94L503.82 441.94L504.91 441.94L506.00 441.94L507.09 441.94L508.18 441.94L509.27 441.94L510.36 441.94L511.45 441.94L512.54 441.94L513.63 441.94L514.73 441.94L515.82 441.94L516.91 441.94L518.00 441.94L519.09 441.94L520.18 441.94L521.27 441.94L522.36 441.94L523.45 441.94L524.54 441.94L525.64 441.94L526.73 441.94L527.82 441.94L528.91 441.94L530.00 441.94L531.09 441.94L532.18 441.94L533.27 441.94L534.36 441.94L535.45 441.94L536.55 441.94L537.64 441.94L538.73 441.94L539.82 441.94L540.91 441.94L542.00 441.94" fill="none" stroke="#3c3a9c" stroke-width="3.1" stroke-linejoin="round"/>
<path d="M106.70 336.67L107.79 338.41L108.88 340.15L109.97 341.88L111.06 343.60L112.15 345.31L113.25 347.00L114.34 348.67L115.43 350.32L116.52 351.94L117.61 353.53L118.70 355.09L119.79 356.61L120.88 358.09L121.97 359.54L123.06 360.94L124.16 362.30L125.25 363.61L126.34 364.87L127.43 366.08L128.52 367.23L129.61 368.33L130.70 369.37L131.79 370.36L132.88 371.28L133.97 372.14L135.07 372.94L136.16 373.68L137.25 374.36L138.34 374.96L139.43 375.51L140.52 375.99L141.61 376.40L142.70 376.74L143.79 377.02L144.88 377.23L145.98 377.38L147.07 377.45L148.16 377.47L149.25 377.41L150.34 377.29L151.43 377.11L152.52 376.86L153.61 376.55L154.70 376.18L155.79 375.75L156.88 375.26L157.98 374.71L159.07 374.10L160.16 373.43L161.25 372.71L162.34 371.94L163.43 371.11L164.52 370.24L165.61 369.32L166.70 368.35L167.79 367.33L168.89 366.27L169.98 365.18L171.07 364.04L172.16 362.86L173.25 361.65L174.34 360.40L175.43 359.12L176.52 357.81L177.61 356.48L178.70 355.12L179.80 353.73L180.89 352.32L181.98 350.89L183.07 349.45L184.16 347.99L185.25 346.51L186.34 345.02L187.43 343.52L188.52 342.02L189.61 340.50L190.71 338.98L191.80 337.46L192.89 335.94L193.98 334.42L195.07 332.90L196.16 331.39L197.25 329.88L198.34 328.38L199.43 326.89L200.52 325.41L201.62 323.94L202.71 322.49L203.80 321.05L204.89 319.62L205.98 318.22L207.07 316.83L208.16 315.46L209.25 314.12L210.34 312.79L211.43 311.49L212.52 310.22L213.62 308.97L214.71 307.74L215.80 306.55L216.89 305.38L217.98 304.24L219.07 303.12L220.16 302.04L221.25 300.99L222.34 299.97L223.43 298.98L224.53 298.03L225.62 297.10L226.71 296.21L227.80 295.35L228.89 294.52L229.98 293.73L231.07 292.97L232.16 292.24L233.25 291.55L234.34 290.89L235.44 290.27L236.53 289.68L237.62 289.12L238.71 288.60L239.80 288.10L240.89 287.65L241.98 287.22L243.07 286.83L244.16 286.47L245.25 286.14L246.35 285.84L247.44 285.58L248.53 285.34L249.62 285.14L250.71 284.96L251.80 284.82L252.89 284.70L253.98 284.61L255.07 284.55L256.16 284.52L257.25 284.51L258.35 284.53L259.44 284.58L260.53 284.65L261.62 284.74L262.71 284.86L263.80 285.01L264.89 285.17L265.98 285.36L267.07 285.57L268.16 285.79L269.26 286.04L270.35 286.31L271.44 286.60L272.53 286.90L273.62 287.22L274.71 287.56L275.80 287.92L276.89 288.29L277.98 288.67L279.07 289.07L280.17 289.48L281.26 289.91L282.35 290.34L283.44 290.79L284.53 291.25L285.62 291.72L286.71 292.20L287.80 292.69L288.89 293.19L289.98 293.69L291.08 294.20L292.17 294.72L293.26 295.25L294.35 295.78L295.44 296.31L296.53 296.85L297.62 297.40L298.71 297.95L299.80 298.50L300.89 299.05L301.98 299.61L303.08 300.17L304.17 300.73L305.26 301.29L306.35 301.85L307.44 302.41L308.53 302.97L309.62 303.53L310.71 304.09L311.80 304.65L312.89 305.21L313.99 305.76L315.08 306.32L316.17 306.87L317.26 307.42L318.35 307.96L319.44 308.50L320.53 309.04L321.62 309.57L322.71 310.10L323.80 310.63L324.90 311.15L325.99 311.66L327.08 312.17L328.17 312.68L329.26 313.18L330.35 313.68L331.44 314.17L332.53 314.65L333.62 315.13L334.71 315.60L335.81 316.07L336.90 316.53L337.99 316.99L339.08 317.43L340.17 317.88L341.26 318.31L342.35 318.74L343.44 319.17L344.53 319.58L345.62 319.99L346.72 320.40L347.81 320.79L348.90 321.18L349.99 321.57L351.08 321.94L352.17 322.31L353.26 322.68L354.35 323.03L355.44 323.39L356.53 323.73L357.62 324.07L358.72 324.40L359.81 324.72L360.90 325.04L361.99 325.35L363.08 325.66L364.17 325.96L365.26 326.25L366.35 326.54L367.44 326.82L368.53 327.09L369.63 327.36L370.72 327.62L371.81 327.88L372.90 328.13L373.99 328.38L375.08 328.62L376.17 328.85L377.26 329.08L378.35 329.30L379.44 329.52L380.54 329.73L381.63 329.94L382.72 330.14L383.81 330.34L384.90 330.53L385.99 330.72L387.08 330.90L388.17 331.08L389.26 331.26L390.35 331.42L391.45 331.59L392.54 331.75L393.63 331.90L394.72 332.06L395.81 332.20L396.90 332.35L397.99 332.49L399.08 332.62L400.17 332.75L401.26 332.88L402.35 333.01L403.45 333.13L404.54 333.25L405.63 333.36L406.72 333.47L407.81 333.58L408.90 333.68L409.99 333.78L411.08 333.88L412.17 333.98L413.26 334.07L414.36 334.16L415.45 334.25L416.54 334.33L417.63 334.41L418.72 334.49L419.81 334.57L420.90 334.64L421.99 334.72L423.08 334.79L424.17 334.85L425.27 334.92L426.36 334.98L427.45 335.04L428.54 335.10L429.63 335.16L430.72 335.21L431.81 335.27L432.90 335.32L433.99 335.37L435.08 335.42L436.18 335.46L437.27 335.51L438.36 335.55L439.45 335.60L440.54 335.64L441.63 335.67L442.72 335.71L443.81 335.75L444.90 335.78L445.99 335.82L447.08 335.85L448.18 335.88L449.27 335.91L450.36 335.94L451.45 335.97L452.54 336.00L453.63 336.03L454.72 336.05L455.81 336.08L456.90 336.10L457.99 336.12L459.09 336.14L460.18 336.16L461.27 336.19L462.36 336.20L463.45 336.22L464.54 336.24L465.63 336.26L466.72 336.28L467.81 336.29L468.90 336.31L470.00 336.32L471.09 336.34L472.18 336.35L473.27 336.36L474.36 336.38L475.45 336.39L476.54 336.40L477.63 336.41L478.72 336.42L479.81 336.43L480.91 336.44L482.00 336.45L483.09 336.46L484.18 336.47L485.27 336.48L486.36 336.49L487.45 336.50L488.54 336.50L489.63 336.51L490.72 336.52L491.82 336.52L492.91 336.53L494.00 336.54L495.09 336.54L496.18 336.55L497.27 336.55L498.36 336.56L499.45 336.56L500.54 336.57L501.63 336.57L502.72 336.58L503.82 336.58L504.91 336.58L506.00 336.59L507.09 336.59L508.18 336.60L509.27 336.60L510.36 336.60L511.45 336.61L512.54 336.61L513.63 336.61L514.73 336.61L515.82 336.62L516.91 336.62L518.00 336.62L519.09 336.62L520.18 336.63L521.27 336.63L522.36 336.63L523.45 336.63L524.54 336.63L525.64 336.63L526.73 336.64L527.82 336.64L528.91 336.64L530.00 336.64L531.09 336.64L532.18 336.64L533.27 336.64L534.36 336.65L535.45 336.65L536.55 336.65L537.64 336.65L538.73 336.65L539.82 336.65L540.91 336.65L542.00 336.65" fill="none" stroke="#9a3678" stroke-width="3.1" stroke-linejoin="round"/>
<path d="M106.70 250.48L107.79 248.74L108.88 247.00L109.97 245.28L111.06 243.56L112.15 241.87L113.25 240.20L114.34 238.55L115.43 236.94L116.52 235.36L117.61 233.83L118.70 232.33L119.79 230.89L120.88 229.49L121.97 228.15L123.06 226.87L124.16 225.65L125.25 224.49L126.34 223.40L127.43 222.38L128.52 221.43L129.61 220.55L130.70 219.75L131.79 219.02L132.88 218.37L133.97 217.81L135.07 217.32L136.16 216.91L137.25 216.59L138.34 216.34L139.43 216.19L140.52 216.11L141.61 216.11L142.70 216.20L143.79 216.37L144.88 216.62L145.98 216.95L147.07 217.36L148.16 217.84L149.25 218.40L150.34 219.04L151.43 219.75L152.52 220.52L153.61 221.37L154.70 222.28L155.79 223.26L156.88 224.29L157.98 225.39L159.07 226.54L160.16 227.74L161.25 229.00L162.34 230.30L163.43 231.64L164.52 233.03L165.61 234.45L166.70 235.91L167.79 237.39L168.89 238.91L169.98 240.45L171.07 242.01L172.16 243.59L173.25 245.19L174.34 246.79L175.43 248.40L176.52 250.02L177.61 251.64L178.70 253.25L179.80 254.86L180.89 256.46L181.98 258.05L183.07 259.62L184.16 261.18L185.25 262.71L186.34 264.23L187.43 265.71L188.52 267.17L189.61 268.59L190.71 269.98L191.80 271.33L192.89 272.64L193.98 273.92L195.07 275.14L196.16 276.33L197.25 277.46L198.34 278.55L199.43 279.58L200.52 280.57L201.62 281.50L202.71 282.37L203.80 283.19L204.89 283.95L205.98 284.65L207.07 285.29L208.16 285.87L209.25 286.40L210.34 286.86L211.43 287.26L212.52 287.59L213.62 287.87L214.71 288.08L215.80 288.24L216.89 288.33L217.98 288.36L219.07 288.32L220.16 288.23L221.25 288.08L222.34 287.86L223.43 287.59L224.53 287.27L225.62 286.88L226.71 286.44L227.80 285.94L228.89 285.39L229.98 284.79L231.07 284.14L232.16 283.43L233.25 282.68L234.34 281.88L235.44 281.04L236.53 280.15L237.62 279.22L238.71 278.25L239.80 277.24L240.89 276.19L241.98 275.11L243.07 273.99L244.16 272.85L245.25 271.67L246.35 270.46L247.44 269.23L248.53 267.97L249.62 266.69L250.71 265.39L251.80 264.07L252.89 262.73L253.98 261.38L255.07 260.01L256.16 258.63L257.25 257.25L258.35 255.85L259.44 254.45L260.53 253.04L261.62 251.63L262.71 250.21L263.80 248.80L264.89 247.39L265.98 245.99L267.07 244.59L268.16 243.19L269.26 241.80L270.35 240.43L271.44 239.06L272.53 237.71L273.62 236.36L274.71 235.04L275.80 233.73L276.89 232.44L277.98 231.16L279.07 229.91L280.17 228.67L281.26 227.46L282.35 226.27L283.44 225.10L284.53 223.96L285.62 222.84L286.71 221.75L287.80 220.68L288.89 219.64L289.98 218.63L291.08 217.64L292.17 216.69L293.26 215.76L294.35 214.86L295.44 214.00L296.53 213.16L297.62 212.35L298.71 211.58L299.80 210.83L300.89 210.12L301.98 209.44L303.08 208.79L304.17 208.17L305.26 207.58L306.35 207.02L307.44 206.49L308.53 206.00L309.62 205.53L310.71 205.10L311.80 204.69L312.89 204.32L313.99 203.98L315.08 203.66L316.17 203.38L317.26 203.13L318.35 202.90L319.44 202.70L320.53 202.53L321.62 202.39L322.71 202.27L323.80 202.18L324.90 202.12L325.99 202.08L327.08 202.07L328.17 202.08L329.26 202.12L330.35 202.18L331.44 202.26L332.53 202.36L333.62 202.49L334.71 202.64L335.81 202.80L336.90 202.99L337.99 203.20L339.08 203.42L340.17 203.67L341.26 203.93L342.35 204.21L343.44 204.50L344.53 204.81L345.62 205.13L346.72 205.47L347.81 205.83L348.90 206.19L349.99 206.57L351.08 206.96L352.17 207.37L353.26 207.78L354.35 208.20L355.44 208.63L356.53 209.08L357.62 209.53L358.72 209.99L359.81 210.45L360.90 210.93L361.99 211.41L363.08 211.89L364.17 212.38L365.26 212.88L366.35 213.38L367.44 213.89L368.53 214.39L369.63 214.90L370.72 215.42L371.81 215.93L372.90 216.45L373.99 216.97L375.08 217.49L376.17 218.01L377.26 218.53L378.35 219.06L379.44 219.58L380.54 220.10L381.63 220.62L382.72 221.13L383.81 221.65L384.90 222.16L385.99 222.67L387.08 223.18L388.17 223.69L389.26 224.19L390.35 224.69L391.45 225.19L392.54 225.68L393.63 226.17L394.72 226.65L395.81 227.13L396.90 227.61L397.99 228.08L399.08 228.55L400.17 229.01L401.26 229.47L402.35 229.92L403.45 230.36L404.54 230.80L405.63 231.24L406.72 231.67L407.81 232.09L408.90 232.51L409.99 232.92L411.08 233.33L412.17 233.73L413.26 234.12L414.36 234.51L415.45 234.89L416.54 235.27L417.63 235.64L418.72 236.00L419.81 236.36L420.90 236.71L421.99 237.06L423.08 237.40L424.17 237.73L425.27 238.06L426.36 238.38L427.45 238.70L428.54 239.01L429.63 239.31L430.72 239.61L431.81 239.90L432.90 240.18L433.99 240.46L435.08 240.74L436.18 241.00L437.27 241.27L438.36 241.52L439.45 241.77L440.54 242.02L441.63 242.26L442.72 242.49L443.81 242.72L444.90 242.95L445.99 243.17L447.08 243.38L448.18 243.59L449.27 243.79L450.36 243.99L451.45 244.18L452.54 244.37L453.63 244.56L454.72 244.74L455.81 244.91L456.90 245.08L457.99 245.25L459.09 245.41L460.18 245.57L461.27 245.72L462.36 245.87L463.45 246.02L464.54 246.16L465.63 246.30L466.72 246.43L467.81 246.56L468.90 246.69L470.00 246.82L471.09 246.94L472.18 247.05L473.27 247.16L474.36 247.27L475.45 247.38L476.54 247.49L477.63 247.59L478.72 247.68L479.81 247.78L480.91 247.87L482.00 247.96L483.09 248.05L484.18 248.13L485.27 248.21L486.36 248.29L487.45 248.37L488.54 248.44L489.63 248.51L490.72 248.58L491.82 248.65L492.91 248.72L494.00 248.78L495.09 248.84L496.18 248.90L497.27 248.96L498.36 249.01L499.45 249.07L500.54 249.12L501.63 249.17L502.72 249.22L503.82 249.26L504.91 249.31L506.00 249.35L507.09 249.39L508.18 249.44L509.27 249.48L510.36 249.51L511.45 249.55L512.54 249.59L513.63 249.62L514.73 249.65L515.82 249.68L516.91 249.72L518.00 249.75L519.09 249.77L520.18 249.80L521.27 249.83L522.36 249.85L523.45 249.88L524.54 249.90L525.64 249.93L526.73 249.95L527.82 249.97L528.91 249.99L530.00 250.01L531.09 250.03L532.18 250.05L533.27 250.06L534.36 250.08L535.45 250.10L536.55 250.11L537.64 250.13L538.73 250.14L539.82 250.16L540.91 250.17L542.00 250.18" fill="none" stroke="#998c38" stroke-width="3.1" stroke-linejoin="round"/>
<path d="M106.70 174.31L107.79 176.05L108.88 177.79L109.97 179.51L111.06 181.22L112.15 182.90L113.25 184.56L114.34 186.18L115.43 187.76L116.52 189.30L117.61 190.79L118.70 192.23L119.79 193.60L120.88 194.92L121.97 196.17L123.06 197.35L124.16 198.45L125.25 199.48L126.34 200.43L127.43 201.29L128.52 202.07L129.61 202.76L130.70 203.36L131.79 203.88L132.88 204.30L133.97 204.62L135.07 204.86L136.16 204.99L137.25 205.04L138.34 204.99L139.43 204.85L140.52 204.61L141.61 204.28L142.70 203.87L143.79 203.36L144.88 202.77L145.98 202.09L147.07 201.33L148.16 200.49L149.25 199.57L150.34 198.58L151.43 197.51L152.52 196.38L153.61 195.19L154.70 193.93L155.79 192.62L156.88 191.26L157.98 189.84L159.07 188.39L160.16 186.89L161.25 185.36L162.34 183.79L163.43 182.20L164.52 180.59L165.61 178.96L166.70 177.32L167.79 175.66L168.89 174.01L169.98 172.36L171.07 170.71L172.16 169.07L173.25 167.44L174.34 165.84L175.43 164.25L176.52 162.70L177.61 161.17L178.70 159.68L179.80 158.23L180.89 156.82L181.98 155.45L183.07 154.14L184.16 152.88L185.25 151.67L186.34 150.52L187.43 149.43L188.52 148.41L189.61 147.45L190.71 146.56L191.80 145.74L192.89 144.99L193.98 144.31L195.07 143.71L196.16 143.18L197.25 142.73L198.34 142.36L199.43 142.07L200.52 141.85L201.62 141.71L202.71 141.65L203.80 141.67L204.89 141.77L205.98 141.95L207.07 142.20L208.16 142.52L209.25 142.92L210.34 143.40L211.43 143.94L212.52 144.56L213.62 145.24L214.71 146.00L215.80 146.81L216.89 147.69L217.98 148.62L219.07 149.62L220.16 150.67L221.25 151.77L222.34 152.92L223.43 154.12L224.53 155.37L225.62 156.65L226.71 157.97L227.80 159.33L228.89 160.72L229.98 162.14L231.07 163.58L232.16 165.05L233.25 166.54L234.34 168.04L235.44 169.56L236.53 171.08L237.62 172.62L238.71 174.15L239.80 175.69L240.89 177.22L241.98 178.75L243.07 180.27L244.16 181.77L245.25 183.27L246.35 184.74L247.44 186.19L248.53 187.63L249.62 189.03L250.71 190.41L251.80 191.75L252.89 193.07L253.98 194.35L255.07 195.59L256.16 196.79L257.25 197.95L258.35 199.06L259.44 200.13L260.53 201.15L261.62 202.13L262.71 203.05L263.80 203.93L264.89 204.75L265.98 205.51L267.07 206.23L268.16 206.88L269.26 207.48L270.35 208.02L271.44 208.51L272.53 208.94L273.62 209.31L274.71 209.62L275.80 209.87L276.89 210.06L277.98 210.19L279.07 210.27L280.17 210.28L281.26 210.24L282.35 210.14L283.44 209.99L284.53 209.78L285.62 209.51L286.71 209.19L287.80 208.81L288.89 208.38L289.98 207.90L291.08 207.37L292.17 206.79L293.26 206.16L294.35 205.48L295.44 204.76L296.53 203.99L297.62 203.19L298.71 202.33L299.80 201.44L300.89 200.51L301.98 199.55L303.08 198.55L304.17 197.51L305.26 196.45L306.35 195.35L307.44 194.23L308.53 193.08L309.62 191.90L310.71 190.70L311.80 189.48L312.89 188.24L313.99 186.99L315.08 185.71L316.17 184.43L317.26 183.12L318.35 181.81L319.44 180.49L320.53 179.17L321.62 177.83L322.71 176.49L323.80 175.15L324.90 173.81L325.99 172.47L327.08 171.13L328.17 169.80L329.26 168.47L330.35 167.14L331.44 165.83L332.53 164.52L333.62 163.22L334.71 161.94L335.81 160.67L336.90 159.41L337.99 158.17L339.08 156.95L340.17 155.74L341.26 154.55L342.35 153.38L343.44 152.23L344.53 151.11L345.62 150.00L346.72 148.92L347.81 147.86L348.90 146.83L349.99 145.82L351.08 144.84L352.17 143.88L353.26 142.95L354.35 142.05L355.44 141.17L356.53 140.33L357.62 139.51L358.72 138.72L359.81 137.96L360.90 137.23L361.99 136.52L363.08 135.85L364.17 135.21L365.26 134.59L366.35 134.01L367.44 133.46L368.53 132.93L369.63 132.44L370.72 131.97L371.81 131.54L372.90 131.13L373.99 130.75L375.08 130.40L376.17 130.08L377.26 129.79L378.35 129.52L379.44 129.29L380.54 129.08L381.63 128.89L382.72 128.74L383.81 128.60L384.90 128.50L385.99 128.42L387.08 128.36L388.17 128.33L389.26 128.32L390.35 128.34L391.45 128.38L392.54 128.44L393.63 128.52L394.72 128.62L395.81 128.75L396.90 128.89L397.99 129.05L399.08 129.23L400.17 129.43L401.26 129.65L402.35 129.88L403.45 130.14L404.54 130.40L405.63 130.69L406.72 130.98L407.81 131.29L408.90 131.62L409.99 131.96L411.08 132.31L412.17 132.67L413.26 133.04L414.36 133.43L415.45 133.82L416.54 134.22L417.63 134.64L418.72 135.06L419.81 135.49L420.90 135.93L421.99 136.37L423.08 136.82L424.17 137.28L425.27 137.74L426.36 138.21L427.45 138.68L428.54 139.16L429.63 139.64L430.72 140.12L431.81 140.61L432.90 141.09L433.99 141.58L435.08 142.08L436.18 142.57L437.27 143.06L438.36 143.56L439.45 144.05L440.54 144.55L441.63 145.04L442.72 145.54L443.81 146.03L444.90 146.52L445.99 147.01L447.08 147.50L448.18 147.98L449.27 148.47L450.36 148.95L451.45 149.43L452.54 149.90L453.63 150.37L454.72 150.84L455.81 151.30L456.90 151.76L457.99 152.22L459.09 152.67L460.18 153.11L461.27 153.56L462.36 153.99L463.45 154.43L464.54 154.85L465.63 155.28L466.72 155.69L467.81 156.11L468.90 156.51L470.00 156.92L471.09 157.31L472.18 157.70L473.27 158.09L474.36 158.47L475.45 158.84L476.54 159.21L477.63 159.57L478.72 159.93L479.81 160.28L480.91 160.62L482.00 160.96L483.09 161.29L484.18 161.62L485.27 161.94L486.36 162.26L487.45 162.57L488.54 162.87L489.63 163.17L490.72 163.46L491.82 163.75L492.91 164.03L494.00 164.31L495.09 164.58L496.18 164.84L497.27 165.10L498.36 165.35L499.45 165.60L500.54 165.84L501.63 166.08L502.72 166.31L503.82 166.54L504.91 166.76L506.00 166.98L507.09 167.19L508.18 167.40L509.27 167.60L510.36 167.80L511.45 167.99L512.54 168.18L513.63 168.36L514.73 168.54L515.82 168.71L516.91 168.88L518.00 169.05L519.09 169.21L520.18 169.37L521.27 169.52L522.36 169.67L523.45 169.82L524.54 169.96L525.64 170.10L526.73 170.23L527.82 170.36L528.91 170.49L530.00 170.61L531.09 170.73L532.18 170.85L533.27 170.96L534.36 171.07L535.45 171.18L536.55 171.28L537.64 171.38L538.73 171.48L539.82 171.58L540.91 171.67L542.00 171.76" fill="none" stroke="#389a56" stroke-width="3.1" stroke-linejoin="round"/>
<line x1="556.3" x2="633.6" y1="441.94" y2="441.94" stroke="#3c3a9c" stroke-width="3.1"/>
<line x1="556.3" x2="633.6" y1="336.67" y2="336.67" stroke="#9a3678" stroke-width="3.1"/>
<line x1="556.3" x2="633.6" y1="250.48" y2="250.48" stroke="#998c38" stroke-width="3.1"/>
<line x1="556.3" x2="633.6" y1="174.31" y2="174.31" stroke="#389a56" stroke-width="3.1"/>
<clipPath id="c"><rect x="100" y="2" width="585" height="581"/></clipPath>
<line x1="106.7" y1="582.3" x2="587.75" y2="-8" stroke="#000" stroke-width="3.4" clip-path="url(#c)"/>
<line x1="102.3" y1="2" x2="102.3" y2="583" stroke="#000" stroke-width="1.6"/>
<line x1="106.7" y1="2" x2="106.7" y2="583" stroke="#000" stroke-width="3.2"/>
<line x1="101.5" y1="582.3" x2="683" y2="582.3" stroke="#000" stroke-width="1.6"/>
<line x1="190.13" x2="190.13" y1="575.8" y2="582.3" stroke="#000" stroke-width="1.4"/>
<line x1="273.56" x2="273.56" y1="575.8" y2="582.3" stroke="#000" stroke-width="1.4"/>
<line x1="356.99" x2="356.99" y1="575.8" y2="582.3" stroke="#000" stroke-width="1.4"/>
<line x1="440.42" x2="440.42" y1="575.8" y2="582.3" stroke="#000" stroke-width="1.4"/>
<line x1="101.5" x2="107" y1="441.94" y2="441.94" stroke="#000" stroke-width="1.4"/>
<line x1="101.5" x2="107" y1="336.67" y2="336.67" stroke="#000" stroke-width="1.4"/>
<line x1="101.5" x2="107" y1="250.48" y2="250.48" stroke="#000" stroke-width="1.4"/>
<line x1="101.5" x2="107" y1="174.31" y2="174.31" stroke="#000" stroke-width="1.4"/>
<line x1="582.40" x2="582.40" y1="264.48" y2="427.94" stroke="#000" stroke-width="3"/>
<path d="M582.40 254.48L589.50 283.28L582.40 279.28L575.30 283.28Z" fill="#000"/>
<path d="M582.40 437.94L589.50 409.14L582.40 413.14L575.30 409.14Z" fill="#000"/>
<line x1="607.50" x2="607.50" y1="188.31" y2="427.94" stroke="#000" stroke-width="3"/>
<path d="M607.50 178.31L614.60 207.11L607.50 203.11L600.40 207.11Z" fill="#000"/>
<path d="M607.50 437.94L614.60 409.14L607.50 413.14L600.40 409.14Z" fill="#000"/>
<circle cx="582.40" cy="250.48" r="8.6" fill="#fff" stroke="#000" stroke-width="3"/>
<circle cx="582.40" cy="441.94" r="8.6" fill="#fff" stroke="#000" stroke-width="3"/>
<circle cx="607.50" cy="174.31" r="8.6" fill="#fff" stroke="#000" stroke-width="3"/>
<circle cx="607.50" cy="441.94" r="8.6" fill="#fff" stroke="#000" stroke-width="3"/>
<text transform="translate(97.60 453.54) scale(1 1.075)" font-family="'Liberation Serif', 'Times New Roman', serif" font-size="33.30" text-anchor="end" fill="#000" stroke="#000" stroke-width="0.30">1.41</text>
<text transform="translate(657.00 451.94) scale(1 1.075)" font-family="'Liberation Serif', 'Times New Roman', serif" font-size="27.50" text-anchor="middle" fill="#3c3a9c" stroke="#3c3a9c" stroke-width="0.10">1</text>
<text transform="translate(97.60 348.27) scale(1 1.075)" font-family="'Liberation Serif', 'Times New Roman', serif" font-size="33.30" text-anchor="end" fill="#000" stroke="#000" stroke-width="0.30">2.46</text>
<text transform="translate(657.00 346.67) scale(1 1.075)" font-family="'Liberation Serif', 'Times New Roman', serif" font-size="27.50" text-anchor="middle" fill="#9a3678" stroke="#9a3678" stroke-width="0.10">2</text>
<text transform="translate(97.60 262.08) scale(1 1.075)" font-family="'Liberation Serif', 'Times New Roman', serif" font-size="33.30" text-anchor="end" fill="#000" stroke="#000" stroke-width="0.30">3.32</text>
<text transform="translate(657.00 260.48) scale(1 1.075)" font-family="'Liberation Serif', 'Times New Roman', serif" font-size="27.50" text-anchor="middle" fill="#998c38" stroke="#998c38" stroke-width="0.10">3</text>
<text transform="translate(97.60 185.91) scale(1 1.075)" font-family="'Liberation Serif', 'Times New Roman', serif" font-size="33.30" text-anchor="end" fill="#000" stroke="#000" stroke-width="0.30">4.08</text>
<text transform="translate(657.00 184.31) scale(1 1.075)" font-family="'Liberation Serif', 'Times New Roman', serif" font-size="27.50" text-anchor="middle" fill="#389a56" stroke="#389a56" stroke-width="0.10">4</text>
<text transform="translate(106.70 617.20) scale(1 1.075)" font-family="'Liberation Serif', 'Times New Roman', serif" font-size="33.30" text-anchor="middle" fill="#000" stroke="#000" stroke-width="0.30">0</text>
<text transform="translate(190.63 617.20) scale(1 1.075)" font-family="'Liberation Serif', 'Times New Roman', serif" font-size="33.30" text-anchor="middle" fill="#000" stroke="#000" stroke-width="0.30">10</text>
<text transform="translate(274.06 617.20) scale(1 1.075)" font-family="'Liberation Serif', 'Times New Roman', serif" font-size="33.30" text-anchor="middle" fill="#000" stroke="#000" stroke-width="0.30">20</text>
<text transform="translate(357.49 617.20) scale(1 1.075)" font-family="'Liberation Serif', 'Times New Roman', serif" font-size="33.30" text-anchor="middle" fill="#000" stroke="#000" stroke-width="0.30">30</text>
<text transform="translate(440.92 617.20) scale(1 1.075)" font-family="'Liberation Serif', 'Times New Roman', serif" font-size="33.30" text-anchor="middle" fill="#000" stroke="#000" stroke-width="0.30">40</text>
<text transform="translate(392.00 661.20) scale(1 1.000)" font-family="'Liberation Serif', 'Times New Roman', serif" font-size="33.30" text-anchor="middle" fill="#000" stroke="#000" stroke-width="0.30">Height [µm]</text>
<text transform="translate(22.10 293.00) rotate(-90) scale(1 1.000)" font-family="'Liberation Serif', 'Times New Roman', serif" font-size="33.30" text-anchor="middle" fill="#000" stroke="#000" stroke-width="0.30">Energy [peV]</text>
</svg>
</body></html>
